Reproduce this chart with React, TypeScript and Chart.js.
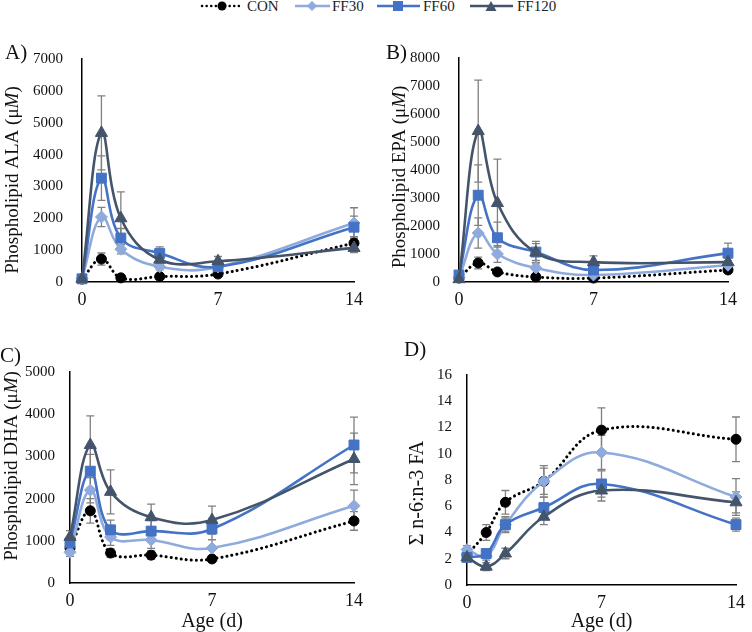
import React, { useEffect, useRef } from 'react';
import { Chart, registerables } from 'chart.js';

Chart.register(...registerables);

// ---------- data ----------
const DAYS = [0, 1, 2, 4, 7, 14];
const X_TICKS = [0, 7, 14];
const SERIES = ['CON', 'FF30', 'FF60', 'FF120'];

// A) Phospholipid ALA
const ALA_CON = [90, 720, 130, 170, 250, 1220];
const ALA_FF30 = [100, 2040, 1030, 480, 470, 1850];
const ALA_FF60 = [100, 3260, 1380, 900, 480, 1720];
const ALA_FF120 = [100, 4680, 2000, 700, 650, 1070];
const ALA_CON_ERR = [20, 190, 40, 60, 60, 200];
const ALA_FF30_ERR = [20, 300, 150, 100, 100, 480];
const ALA_FF60_ERR = [20, 700, 300, 200, 150, 350];
const ALA_FF120_ERR = [20, 1160, 830, 150, 150, 150];

// B) Phospholipid EPA
const EPA_CON = [140, 680, 360, 180, 140, 430];
const EPA_FF30 = [150, 1750, 1000, 500, 250, 600];
const EPA_FF60 = [250, 3100, 1580, 1070, 430, 1030];
const EPA_FF120 = [100, 5390, 2820, 1050, 710, 710];
const EPA_CON_ERR = [30, 210, 80, 60, 40, 80];
const EPA_FF30_ERR = [30, 540, 300, 200, 100, 150];
const EPA_FF60_ERR = [50, 1080, 560, 300, 150, 360];
const EPA_FF120_ERR = [30, 1820, 1570, 400, 220, 150];

// C) Phospholipid DHA
const DHA_CON = [830, 1710, 710, 660, 570, 1470];
const DHA_FF30 = [730, 2200, 1090, 1020, 830, 1830];
const DHA_FF60 = [950, 2650, 1260, 1230, 1280, 3270];
const DHA_FF120 = [1090, 3270, 2160, 1560, 1490, 2940];
const DHA_CON_ERR = [100, 290, 100, 100, 80, 220];
const DHA_FF30_ERR = [100, 300, 200, 200, 200, 370];
const DHA_FF60_ERR = [150, 400, 230, 250, 250, 660];
const DHA_FF120_ERR = [150, 690, 520, 310, 330, 610];

// D) n-6:n-3 ratio
const RATIO_CON = [2.3, 4.0, 6.3, 7.9, 11.8, 11.1];
const RATIO_FF30 = [2.7, 2.2, 4.6, 7.9, 10.1, 6.7];
const RATIO_FF60 = [2.1, 2.4, 4.6, 5.9, 7.7, 4.6];
const RATIO_FF120 = [2.1, 1.4, 2.4, 5.2, 7.2, 6.3];
const RATIO_CON_ERR = [0.4, 0.6, 0.9, 1.2, 1.7, 1.7];
const RATIO_FF30_ERR = [0.3, 0.3, 0.6, 1.0, 1.3, 1.4];
const RATIO_FF60_ERR = [0.3, 0.3, 0.5, 0.8, 1.0, 0.5];
const RATIO_FF120_ERR = [0.3, 0.3, 0.4, 0.6, 0.8, 0.8];

// ---------- styles ----------
const FONT = "'Liberation Serif', 'Times New Roman', serif";
const COLORS = ['#000000', '#8FAADC', '#4472C4', '#44546A'];
const POINT_STYLES = ['circle', 'rectRot', 'rect', 'triangle'];
const POINT_RADII = [5, 6, 7, 7];

type PanelCfg = {
  key: string;
  letter: string;
  yTitle: string[]; // [upright, italic, upright]
  yMax: number;
  yStep: number;
  values: number[][];
  errors: number[][];
  xTitle: boolean;
  left: number;
  top: number;
  w: number;
  h: number;
  pad: { left: number; right: number; top: number; bottom: number };
  yWidth: number;
  xHeight: number;
  yTickPad: number;
  titleX: number;
  titleY: number;
  titleSize: number;
  letterX: number;
  letterY: number;
};

const PANELS: PanelCfg[] = [
  {
    key: 'A', letter: 'A)', yTitle: ['Phospholipid ALA (μ', 'M', ')'], yMax: 7000, yStep: 1000,
    values: [ALA_CON, ALA_FF30, ALA_FF60, ALA_FF120],
    errors: [ALA_CON_ERR, ALA_FF30_ERR, ALA_FF60_ERR, ALA_FF120_ERR],
    xTitle: false, left: 0, top: 30, w: 370, h: 280,
    pad: { left: 0, right: 12, top: 29, bottom: 0 }, yWidth: 82, xHeight: 28,
    yTickPad: 19, titleX: 13, titleY: 150, titleSize: 19, letterX: 5, letterY: 42,
  },
  {
    key: 'B', letter: 'B)', yTitle: ['Phospholipid EPA (μ', 'M', ')'], yMax: 8000, yStep: 1000,
    values: [EPA_CON, EPA_FF30, EPA_FF60, EPA_FF120],
    errors: [EPA_CON_ERR, EPA_FF30_ERR, EPA_FF60_ERR, EPA_FF120_ERR],
    xTitle: false, left: 370, top: 30, w: 382, h: 280,
    pad: { left: 0, right: 24, top: 28, bottom: 0 }, yWidth: 89, xHeight: 28,
    yTickPad: 19, titleX: 30, titleY: 147, titleSize: 19, letterX: 386, letterY: 42,
  },
  {
    key: 'C', letter: 'C)', yTitle: ['Phospholipid DHA (μ', 'M', ')'], yMax: 5000, yStep: 1000,
    values: [DHA_CON, DHA_FF30, DHA_FF60, DHA_FF120],
    errors: [DHA_CON_ERR, DHA_FF30_ERR, DHA_FF60_ERR, DHA_FF120_ERR],
    xTitle: true, left: 0, top: 310, w: 370, h: 322,
    pad: { left: 0, right: 12, top: 62, bottom: 0 }, yWidth: 70, xHeight: 49,
    yTickPad: 15, titleX: 12, titleY: 156, titleSize: 19, letterX: 0, letterY: 345,
  },
  {
    key: 'D', letter: 'D)', yTitle: ['Σ n-6:n-3 FA', '', ''], yMax: 16, yStep: 2,
    values: [RATIO_CON, RATIO_FF30, RATIO_FF60, RATIO_FF120],
    errors: [RATIO_CON_ERR, RATIO_FF30_ERR, RATIO_FF60_ERR, RATIO_FF120_ERR],
    xTitle: true, left: 370, top: 310, w: 382, h: 322,
    pad: { left: 0, right: 10, top: 65, bottom: 0 }, yWidth: 97, xHeight: 47,
    yTickPad: 15, titleX: 48, titleY: 183, titleSize: 20, letterX: 404, letterY: 339,
  },
];

const errorBarPlugin = {
  id: 'errorBars',
  beforeDatasetsDraw(chart: any, _args: any, opts: any) {
    const errs: number[][] = opts.errors || [];
    const xs = chart.scales.x;
    const ys = chart.scales.y;
    const ctx = chart.ctx;
    ctx.save();
    ctx.strokeStyle = opts.color || '#7f7f7f';
    ctx.lineWidth = opts.width || 1.3;
    const cap = opts.cap || 4;
    chart.data.datasets.forEach((ds: any, i: number) => {
      const e = errs[i];
      if (!e) return;
      ds.data.forEach((p: any, j: number) => {
        const px = xs.getPixelForValue(p.x);
        const t = ys.getPixelForValue(p.y + e[j]);
        const b = ys.getPixelForValue(Math.max(0, p.y - e[j]));
        ctx.beginPath();
        ctx.moveTo(px, t);
        ctx.lineTo(px, b);
        ctx.moveTo(px - cap, t);
        ctx.lineTo(px + cap, t);
        ctx.moveTo(px - cap, b);
        ctx.lineTo(px + cap, b);
        ctx.stroke();
      });
    });
    ctx.restore();
  },
};

// Rotated y-axis title with a mixed upright/italic run (e.g. "μM")
const yTitlePlugin = {
  id: 'yTitle',
  afterDraw(chart: any, _args: any, opts: any) {
    const parts: string[] = opts.parts || [];
    if (!parts.length) return;
    const ctx = chart.ctx;
    ctx.save();
    ctx.translate(opts.x, opts.y);
    ctx.rotate(-Math.PI / 2);
    ctx.fillStyle = opts.color || '#111';
    ctx.textBaseline = 'middle';
    ctx.textAlign = 'left';
    const fonts = parts.map((_, i) => `${i === 1 ? 'italic ' : ''}${opts.size}px ${FONT}`);
    const widths = parts.map((t, i) => {
      ctx.font = fonts[i];
      return ctx.measureText(t).width;
    });
    const total = widths.reduce((a, b) => a + b, 0);
    let cx = -total / 2;
    parts.forEach((t, i) => {
      ctx.font = fonts[i];
      ctx.fillText(t, cx, 0);
      cx += widths[i];
    });
    ctx.restore();
  },
};

function buildChart(canvas: HTMLCanvasElement, p: PanelCfg) {
  const datasets = SERIES.map((name, i) => ({
    label: name,
    data: DAYS.map((d, j) => ({ x: d, y: p.values[i][j] })),
    borderColor: COLORS[i],
    backgroundColor: COLORS[i],
    borderWidth: i === 0 ? 3 : 2.6,
    borderDash: i === 0 ? [0.1, 5] : [],
    borderCapStyle: i === 0 ? 'round' : 'butt',
    pointStyle: POINT_STYLES[i],
    pointRadius: POINT_RADII[i],
    pointBorderWidth: 1,
    pointBorderColor: COLORS[i],
    pointBackgroundColor: COLORS[i],
    tension: 0.4,
    clip: false,
    order: 3 - i,
  }));
  return new Chart(canvas, {
    type: 'line',
    data: { datasets } as any,
    plugins: [errorBarPlugin, yTitlePlugin],
    options: {
      animation: false,
      responsive: false,
      layout: { padding: p.pad },
      plugins: {
        legend: { display: false },
        tooltip: { enabled: false },
        errorBars: { errors: p.errors, color: '#808080', width: 1.3, cap: 4 },
        yTitle: { parts: p.yTitle, x: p.titleX, y: p.titleY, size: p.titleSize, color: '#111' },
      } as any,
      scales: {
        x: {
          type: 'linear',
          min: 0,
          max: 14,
          afterBuildTicks: (s: any) => {
            s.ticks = X_TICKS.map((v) => ({ value: v }));
          },
          afterFit: (s: any) => {
            s.height = p.xHeight;
          },
          grid: { display: false, drawTicks: false },
          border: { display: true, color: '#000', width: 1.5 },
          ticks: {
            color: '#111',
            padding: 7,
            maxRotation: 0,
            callback: (v: any) => String(v),
            font: { family: FONT, size: 18 },
          },
          title: {
            display: p.xTitle,
            text: 'Age (d)',
            color: '#111',
            padding: { top: 0, bottom: -2 },
            font: { family: FONT, size: 20 },
          },
        },
        y: {
          type: 'linear',
          min: 0,
          max: p.yMax,
          afterFit: (s: any) => {
            s.width = p.yWidth;
          },
          grid: { display: false, drawTicks: false },
          border: { display: true, color: '#000', width: 1.5 },
          ticks: {
            stepSize: p.yStep,
            color: '#111',
            padding: p.yTickPad,
            callback: (v: any) => String(v),
            font: { family: FONT, size: 15 },
          },
          title: { display: false },
        },
      },
    } as any,
  });
}

function Panel({ p }: { p: PanelCfg }) {
  const ref = useRef<HTMLCanvasElement | null>(null);
  useEffect(() => {
    if (!ref.current) return;
    const chart = buildChart(ref.current, p);
    return () => chart.destroy();
  }, [p]);
  return (
    <canvas
      ref={ref}
      width={p.w}
      height={p.h}
      style={{ position: 'absolute', left: p.left, top: p.top, width: p.w, height: p.h }}
    />
  );
}

function Legend() {
  const y = 6;
  const textStyle = { fontFamily: FONT, fontSize: 15, fill: '#222' } as any;
  return (
    <svg width={752} height={18} style={{ position: 'absolute', left: 0, top: 0 }}>
      {/* CON */}
      <line x1={202} y1={y} x2={242} y2={y} stroke="#000" strokeWidth={2.5}
        strokeDasharray="0.1 4.5" strokeLinecap="round" />
      <circle cx={222} cy={y} r={4.5} fill="#000" />
      <text x={247} y={y + 5} style={textStyle}>{SERIES[0]}</text>
      {/* FF30 */}
      <line x1={295} y1={y} x2={330} y2={y} stroke={COLORS[1]} strokeWidth={2.5} />
      <polygon points={`312,${y - 5} 317,${y} 312,${y + 5} 307,${y}`} fill={COLORS[1]} />
      <text x={332} y={y + 5} style={textStyle}>{SERIES[1]}</text>
      {/* FF60 */}
      <line x1={377} y1={y} x2={420} y2={y} stroke={COLORS[2]} strokeWidth={2.5} />
      <rect x={393} y={y - 5} width={10} height={10} fill={COLORS[2]} />
      <text x={423} y={y + 5} style={textStyle}>{SERIES[2]}</text>
      {/* FF120 */}
      <line x1={470} y1={y} x2={513} y2={y} stroke={COLORS[3]} strokeWidth={2.5} />
      <polygon points={`491,${y - 5} 496.5,${y + 5} 485.5,${y + 5}`} fill={COLORS[3]} />
      <text x={517} y={y + 5} style={textStyle}>{SERIES[3]}</text>
    </svg>
  );
}

export default function App() {
  return (
    <div
      style={{
        position: 'absolute',
        left: 0,
        top: 0,
        width: 752,
        height: 632,
        background: '#fff',
        overflow: 'hidden',
        fontFamily: FONT,
      }}
    >
      <Legend />
      {PANELS.map((p) => (
        <Panel key={p.key} p={p} />
      ))}
      {PANELS.map((p) => (
        <div
          key={'l' + p.key}
          style={{
            position: 'absolute',
            left: p.letterX,
            top: p.letterY,
            fontSize: 21,
            lineHeight: '21px',
            color: '#111',
            fontFamily: FONT,
          }}
        >
          {p.letter}
        </div>
      ))}
    </div>
  );
}
